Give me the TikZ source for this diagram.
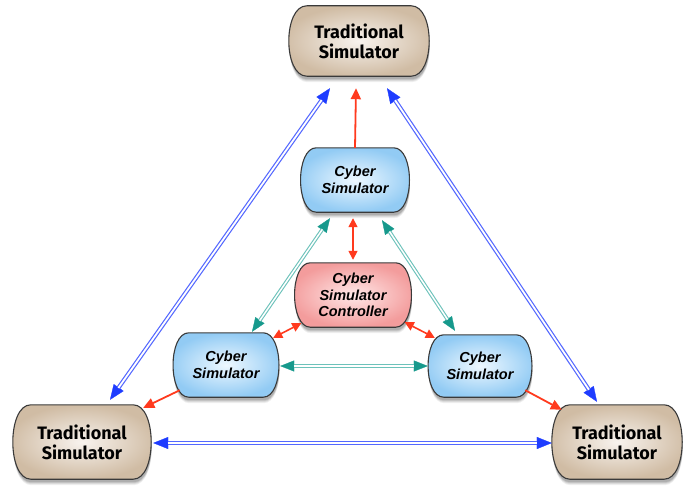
\documentclass[tikz,border=0pt]{standalone}
\usepackage{fontspec}
\setmainfont{Liberation Sans}
\newfontfamily\tradfont{Fira Sans}
\usetikzlibrary{arrows.meta,backgrounds}

\definecolor{edgegray}{HTML}{3A3A3A}
\definecolor{tradout}{HTML}{D0BCA4}
\definecolor{tradin}{HTML}{F8F3EE}
\definecolor{cyberout}{HTML}{92CBF4}
\definecolor{cyberin}{HTML}{EEF8FF}
\definecolor{ctrlout}{HTML}{F39C9C}
\definecolor{ctrlin}{HTML}{FFE8E8}
\definecolor{linkblue}{HTML}{1E3CFF}
\definecolor{linkbluel}{HTML}{5468FF}
\definecolor{linkred}{HTML}{FF3A1E}
\definecolor{linkteal}{HTML}{16998C}
\definecolor{linktealh}{HTML}{6CC2BA}

% barrel-shaped box drawn behind a text node: #1 node, #2 side bulge,
% #3 rim colour, #4 centre colour
\newcommand\barrelbox[4]{%
  \begin{pgfonlayer}{background}
    \foreach \dy/\op in {6/0.06,5/0.08,4/0.10,3/0.12}{%
      \begin{scope}[transform canvas={shift={(0.5pt,-\dy pt)}}]
        \fill[black,opacity=\op]
          ([xshift=#2]#1.north west) -- ([xshift=-#2]#1.north east)
          .. controls ([xshift={#2/2}]#1.north east) and ([xshift={#2/2}]#1.south east) .. ([xshift=-#2]#1.south east)
          -- ([xshift=#2]#1.south west)
          .. controls ([xshift={-#2/2}]#1.south west) and ([xshift={-#2/2}]#1.north west) .. cycle;
      \end{scope}}
    \draw[draw=edgegray, line width=1.1pt, inner color=#4, outer color=#3]
      ([xshift=#2]#1.north west) -- ([xshift=-#2]#1.north east)
      .. controls ([xshift={#2/2}]#1.north east) and ([xshift={#2/2}]#1.south east) .. ([xshift=-#2]#1.south east)
      -- ([xshift=#2]#1.south west)
      .. controls ([xshift={-#2/2}]#1.south west) and ([xshift={-#2/2}]#1.north west) .. cycle;
  \end{pgfonlayer}}

% two-way link with a hollow (double) shaft: tips first, shaft on top
\newcommand\hollowlink[4]{%
  \draw[#1] (#3) -- (#4);
  \draw[#2] (#3) -- (#4);}

\tikzset{
  x=1pt, y=-1pt,
  box/.style={inner sep=0pt, align=center, text=black},
  tradbox/.style={box, font=\tradfont\bfseries\fontsize{18}{20}\selectfont},
  cyberbox/.style={box, font=\bfseries\itshape\fontsize{14.5}{16.5}\selectfont},
  bluetips/.style={draw=white, line width=0.3pt,
    {Triangle[length=15pt,width=12pt,color=linkblue]}-{Triangle[length=15pt,width=12pt,color=linkblue]}},
  blueshaft/.style={draw=linkbluel, line width=1.2pt, double=white, double distance=1.8pt,
    shorten <=14.5pt, shorten >=14.5pt},
  tealtips/.style={draw=white, line width=0.3pt,
    {Triangle[length=14pt,width=11pt,color=linkteal]}-{Triangle[length=14pt,width=11pt,color=linkteal]}},
  tealshaft/.style={draw=linktealh, line width=1.1pt, double=white, double distance=1.5pt,
    shorten <=13.5pt, shorten >=13.5pt},
  redone/.style={draw=linkred, line width=1.8pt, -{Triangle[length=11pt,width=10pt]}},
  redtwo/.style={draw=linkred, line width=1.6pt,
    {Triangle[length=9pt,width=9pt]}-{Triangle[length=9pt,width=9pt]}},
}

\begin{document}
\begin{tikzpicture}
\useasboundingbox (0,0) rectangle (684,487);

% simulators
\node[tradbox, minimum width=136pt, minimum height=70pt] (ts) at (359,41) {Traditional\\Simulator};
\node[tradbox, minimum width=134pt, minimum height=74pt] (tl) at (82,442) {Traditional\\Simulator};
\node[tradbox, minimum width=126pt, minimum height=74pt] (tr) at (617,442) {Traditional\\Simulator};
\node[cyberbox, minimum width=105pt, minimum height=64pt] (ct) at (355,180) {Cyber\\Simulator};
\node[cyberbox, minimum width=113pt, minimum height=64pt] (ctrl) at (353,295) {Cyber\\Simulator\\Controller};
\node[cyberbox, minimum width=102pt, minimum height=64pt] (cl) at (226,365) {Cyber\\Simulator};
\node[cyberbox, minimum width=100pt, minimum height=62pt] (cr) at (480,366) {Cyber\\Simulator};

\barrelbox{ts}{16}{tradout}{tradin}
\barrelbox{tl}{16}{tradout}{tradin}
\barrelbox{tr}{16}{tradout}{tradin}
\barrelbox{ct}{14}{cyberout}{cyberin}
\barrelbox{ctrl}{14}{ctrlout}{ctrlin}
\barrelbox{cl}{14}{cyberout}{cyberin}
\barrelbox{cr}{14}{cyberout}{cyberin}

% outer ring between traditional simulators
\hollowlink{bluetips}{blueshaft}{[shift={(-29,12)}]ts.south}{[shift={(28,-5)}]tl.north}
\hollowlink{bluetips}{blueshaft}{[shift={(28,12)}]ts.south}{[shift={(-20,-3)}]tr.north}
\hollowlink{bluetips}{blueshaft}{[shift={(4,1)}]tl.east}{[shift={(-2,1)}]tr.west}

% inner ring between cyber simulators
\hollowlink{tealtips}{tealshaft}{[shift={(-25,6)}]ct.south}{[shift={(26,-1)}]cl.north}
\hollowlink{tealtips}{tealshaft}{[shift={(27,8)}]ct.south}{[shift={(-25,-4)}]cr.north}
\hollowlink{tealtips}{tealshaft}{[shift={(3,1)}]cl.east}{[shift={(-2,0)}]cr.west}

% controller links
\draw[redtwo] ([shift={(-2,6)}]ct.south) -- ([shift={(0,-3)}]ctrl.north);
\draw[redtwo] ([shift={(-4,5)}]cl.north east) -- ([shift={(5,-4)}]ctrl.south west);
\draw[redtwo] ([shift={(-5,-5)}]ctrl.south east) -- ([shift={(5,3)}]cr.north west);

% cyber to traditional
\draw[redone] (ct.north) -- ([shift={(-3,12)}]ts.south);
\draw[redone] ([shift={(5,-7)}]cl.south west) -- ([shift={(-6,3)}]tl.north east);
\draw[redone] ([shift={(-5,-7)}]cr.south east) -- ([shift={(8,5)}]tr.north west);
\end{tikzpicture}
\end{document}
